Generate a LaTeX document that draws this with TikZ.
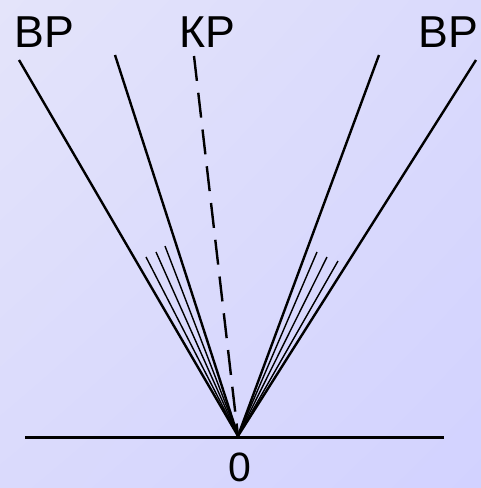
\documentclass[tikz,border=0pt]{standalone}
\usepackage{fontspec}
\setmainfont{Liberation Sans}
\usetikzlibrary{positioning,shadings}
\definecolor{Ink}{HTML}{000000}
\definecolor{BgLight}{RGB}{228,228,250}
\definecolor{BgMid}{RGB}{218,218,252}
\definecolor{BgDark}{RGB}{210,210,255}
\tikzset{
  beam/.style={Ink,line width=2.4pt},
  ray/.style={Ink,line width=1.4pt},
  axis/.style={Ink,line width=3pt},
  lbl/.style={anchor=base,inner sep=0pt,font=\fontsize{44.7}{50}\selectfont}
}
\begin{document}
\begin{tikzpicture}[x=1pt,y=-1pt]
\shade[upper left=BgLight,upper right=BgMid,lower left=BgMid,lower right=BgDark] (0,0) rectangle (481,488);
\useasboundingbox (0,0) rectangle (481,488);
\coordinate (O) at (238,436);
\coordinate (axL) at (25,437);
\coordinate (axR) at (444,437);
\coordinate (bL) at (19,60);
\coordinate (bLi) at (115,55);
\coordinate (kp) at (194,56);
\coordinate (bRi) at (379,55);
\coordinate (bR) at (476,60);
\coordinate (rL1) at (146,257);
\coordinate (rL2) at (156,252);
\coordinate (rL3) at (165,246);
\coordinate (rR1) at (317,252);
\coordinate (rR2) at (327,257);
\coordinate (rR3) at (338,261);
\node[lbl] (vpL) at (44,47) {ВР};
\node[lbl] (kpL) at (207,47) {КР};
\node[lbl] (vpR) at (448,47) {ВР};
\node[lbl,font=\fontsize{41}{46}\selectfont] (zero) at (240,481) {0};
\draw[axis] (axL) -- (axR);
\draw[beam] (O) -- (bL);
\draw[beam] (O) -- (bLi);
\draw[beam,dash pattern=on 25pt off 12pt] (kp) -- (O);
\draw[beam] (O) -- (bRi);
\draw[beam] (O) -- (bR);
\draw[ray] (O) -- (rL1);
\draw[ray] (O) -- (rL2);
\draw[ray] (O) -- (rL3);
\draw[ray] (O) -- (rR1);
\draw[ray] (O) -- (rR2);
\draw[ray] (O) -- (rR3);
\end{tikzpicture}
\end{document}
